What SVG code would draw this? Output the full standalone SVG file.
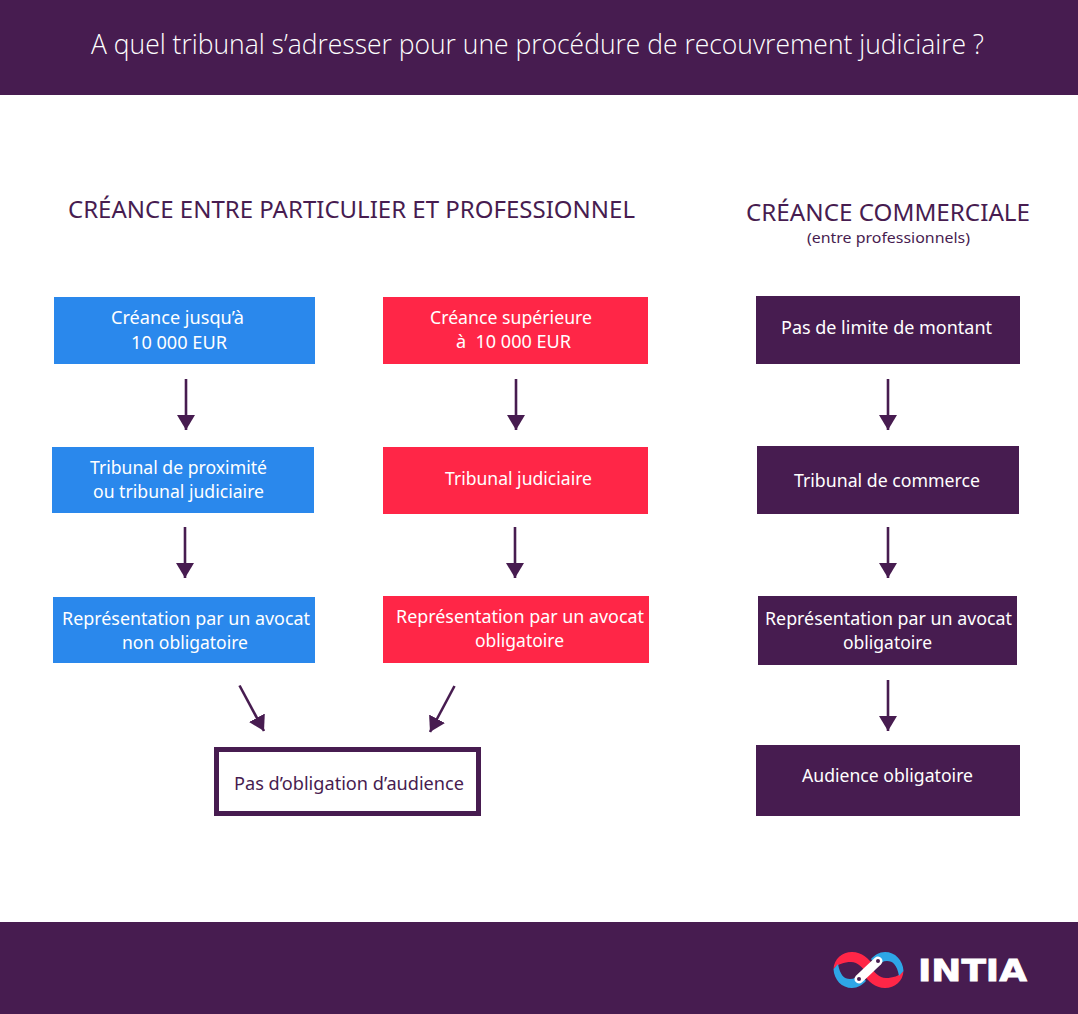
<svg xmlns="http://www.w3.org/2000/svg" width="1078" height="1014" viewBox="0 0 1078 1014">
<defs>
<style>
text{font-family:"Noto Sans","Open Sans","Liberation Sans",sans-serif;}
.w{fill:#fff;font-size:18px;}
.p{fill:#471c50;}
.blue{fill:#2a88ec;}
.red{fill:#ff2647;}
.dark{fill:#471c50;}
.c{stroke:#471c50;stroke-width:2.6;fill:none;marker-end:url(#ah);}
</style>
<marker id="ah" markerUnits="userSpaceOnUse" markerWidth="18" markerHeight="18" refX="15" refY="9" orient="auto"><path d="M0 0L15 9L0 18Z" fill="#471c50"/></marker>
</defs>
<rect width="1078" height="1014" fill="#fff"/>
<rect class="dark" width="1078" height="95"/>
<rect class="dark" y="922" width="1078" height="92"/>
<text x="91" y="54" fill="#fff" font-size="27" font-weight="300" style="font-family:'Open Sans','Noto Sans',sans-serif" textLength="893" lengthAdjust="spacingAndGlyphs">A quel tribunal s’adresser pour une procédure de recouvrement judiciaire ?</text>
<text class="p" x="68" y="218" font-size="24" textLength="567" lengthAdjust="spacingAndGlyphs">CRÉANCE ENTRE PARTICULIER ET PROFESSIONNEL</text>
<text class="p" x="746" y="221" font-size="24" textLength="284" lengthAdjust="spacingAndGlyphs">CRÉANCE COMMERCIALE</text>
<text class="p" x="807" y="243" font-size="15" textLength="163" lengthAdjust="spacingAndGlyphs">(entre professionnels)</text>

<g id="connectors">
<path class="c" d="M186 379V430"/>
<path class="c" d="M516 379V430"/>
<path class="c" d="M888 379V430"/>
<path class="c" d="M185 527V578"/>
<path class="c" d="M515 527V578"/>
<path class="c" d="M888 527V578"/>
<path class="c" d="M888 680V731"/>
<path class="c" d="M239.500 685.500L264 731"/>
<path class="c" d="M454.500 686L430 732"/>
</g>

<g id="n1"><rect class="blue" x="54" y="297" width="261" height="67"/>
<text class="w" x="111" y="324" textLength="133" lengthAdjust="spacingAndGlyphs">Créance jusqu’à</text>
<text class="w" x="131" y="349" textLength="96" lengthAdjust="spacingAndGlyphs">10 000 EUR</text></g>
<g id="n2"><rect class="blue" x="52" y="447" width="262" height="66"/>
<text class="w" x="90" y="474" textLength="177" lengthAdjust="spacingAndGlyphs">Tribunal de proximité</text>
<text class="w" x="93" y="498" textLength="171" lengthAdjust="spacingAndGlyphs">ou tribunal judiciaire</text></g>
<g id="n3"><rect class="blue" x="53" y="597" width="262" height="66"/>
<text class="w" x="62" y="625" textLength="248" lengthAdjust="spacingAndGlyphs">Représentation par un avocat</text>
<text class="w" x="122" y="649" textLength="126" lengthAdjust="spacingAndGlyphs">non obligatoire</text></g>

<g id="n4"><rect class="red" x="383" y="297" width="265" height="67"/>
<text class="w" x="430" y="324" textLength="162" lengthAdjust="spacingAndGlyphs">Créance supérieure</text>
<text class="w" x="456" y="348" textLength="115" lengthAdjust="spacingAndGlyphs" xml:space="preserve">à  10 000 EUR</text></g>
<g id="n5"><rect class="red" x="383" y="447" width="265" height="67"/>
<text class="w" x="445" y="485" textLength="147" lengthAdjust="spacingAndGlyphs">Tribunal judiciaire</text></g>
<g id="n6"><rect class="red" x="383" y="596" width="266" height="67"/>
<text class="w" x="396" y="623" textLength="248" lengthAdjust="spacingAndGlyphs">Représentation par un avocat</text>
<text class="w" x="475" y="647" textLength="89" lengthAdjust="spacingAndGlyphs">obligatoire</text></g>

<g id="n7"><rect class="dark" x="756" y="296" width="264" height="68"/>
<text class="w" x="781" y="334" textLength="211" lengthAdjust="spacingAndGlyphs">Pas de limite de montant</text></g>
<g id="n8"><rect class="dark" x="757" y="446" width="262" height="68"/>
<text class="w" x="794" y="487" textLength="186" lengthAdjust="spacingAndGlyphs">Tribunal de commerce</text></g>
<g id="n9"><rect class="dark" x="758" y="596" width="259" height="69"/>
<text class="w" x="765" y="625" textLength="247" lengthAdjust="spacingAndGlyphs">Représentation par un avocat</text>
<text class="w" x="843" y="649" textLength="89" lengthAdjust="spacingAndGlyphs">obligatoire</text></g>
<g id="n10"><rect class="dark" x="756" y="745" width="264" height="71"/>
<text class="w" x="802" y="782" textLength="171" lengthAdjust="spacingAndGlyphs">Audience obligatoire</text></g>

<g id="n11"><rect x="216.500" y="749.500" width="262" height="64" fill="#fff" stroke="#471c50" stroke-width="5"/>
<text class="p" x="234" y="790" font-size="18" textLength="230" lengthAdjust="spacingAndGlyphs">Pas d’obligation d’audience</text></g>

<g id="logo">
<g id="logo-half">
<path d="M833.500 969C834 959 842 952 852 952C862 952 869 959 873 965L867 974C863 968 858 962 851 962C844 962 838 964 833.500 969Z" fill="#ff2647"/>
<path d="M833.500 969C834 980 842 988 852 988C858 988 862 985 866 981L860 974C857 977 854 979 850 979C844 979 840 975 838 964Z" fill="#2ea6e6"/>
</g>
<g transform="rotate(180 868.500 970)">
<path d="M833.500 969C834 959 842 952 852 952C862 952 869 959 873 965L867 974C863 968 858 962 851 962C844 962 838 964 833.500 969Z" fill="#ff2647"/>
<path d="M833.500 969C834 980 842 988 852 988C858 988 862 985 866 981L860 974C857 977 854 979 850 979C844 979 840 975 838 964Z" fill="#2ea6e6"/>
</g>
<path d="M859 979L878 961" stroke="#fff" stroke-width="9" stroke-linecap="round" fill="none"/>
<circle cx="859" cy="979" r="2" fill="#471c50"/><circle cx="878" cy="961" r="2" fill="#471c50"/>
<text x="918" y="981" fill="#fff" stroke="#fff" stroke-width="0.8" font-size="31" font-weight="700" style="font-family:'DejaVu Sans',sans-serif" textLength="109" lengthAdjust="spacingAndGlyphs">INTIA</text>
</g>
</svg>
